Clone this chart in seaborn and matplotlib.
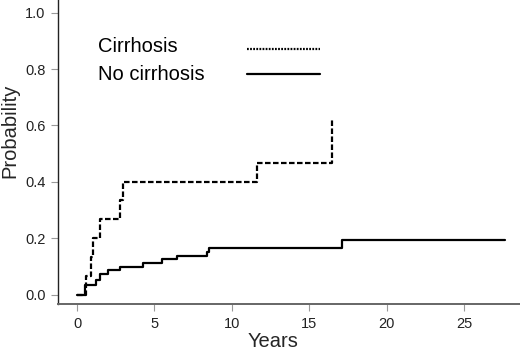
import numpy as np
import pandas as pd
import matplotlib
matplotlib.use("Agg")
import matplotlib.pyplot as plt
from matplotlib.lines import Line2D
import seaborn as sns

# step points (time in years, cumulative probability after the step)
cirr_years = [0, 0.6, 0.9, 1.0, 1.5, 2.77, 3.0, 11.63, 16.43]
cirr_prob = [0, 0.066, 0.135, 0.20, 0.268, 0.336, 0.40, 0.466, 0.626]

nocirr_years = [0, 0.52, 1.23, 1.48, 2.0, 2.77, 4.24, 5.5, 6.43, 8.37, 8.5, 17.1, 27.6]
nocirr_prob = [0, 0.035, 0.052, 0.073, 0.087, 0.10, 0.113, 0.127, 0.138, 0.152, 0.165, 0.194, 0.194]

labels = ["Cirrhosis", "No cirrhosis"]
xticks = [0, 5, 10, 15, 20, 25]
yticks = [0.0, 0.2, 0.4, 0.6, 0.8, 1.0]

sns.set_style("ticks")
plt.rcParams['font.family'] = ['Liberation Sans', 'DejaVu Sans']

fig = plt.figure(figsize=(5.2, 3.58), dpi=100)
ax = fig.add_axes([0.1115, 0.15, 0.8885, 0.85])

df_c = pd.DataFrame({"Years": cirr_years, "Probability": cirr_prob})
df_n = pd.DataFrame({"Years": nocirr_years, "Probability": nocirr_prob})

sns.lineplot(data=df_n, x="Years", y="Probability", ax=ax, color="black",
             linewidth=1.6, drawstyle="steps-post", estimator=None, sort=False)
sns.lineplot(data=df_c, x="Years", y="Probability", ax=ax, color="black",
             linewidth=1.6, drawstyle="steps-post", estimator=None, sort=False,
             dashes=False, linestyle=(0, (2.5, 1.1)))

ax.set_xlim(-1.23, 28.6)
ax.set_ylim(-0.034, 1.045)
ax.set_xticks(xticks)
ax.set_yticks(yticks)
ax.set_xticklabels([str(t) for t in xticks])
ax.set_yticklabels(["%.1f" % t for t in yticks])
ax.tick_params(labelsize=10.5, length=5, width=0.8, color="#999999",
               labelcolor="#222222", pad=4)

for s in ["top", "right"]:
    ax.spines[s].set_visible(False)
ax.spines["left"].set_color("#222222")
ax.spines["bottom"].set_color("#666666")
ax.spines["left"].set_linewidth(1.0)
ax.spines["bottom"].set_linewidth(1.4)

ax.set_xlabel("Years", fontsize=14.5)
ax.set_ylabel("Probability", fontsize=14.5)
ax.xaxis.set_label_coords(0.465, -0.09)
ax.yaxis.set_label_coords(-0.084, 0.57)

# legend: labels on the left, line samples on the right
legend_styles = [(0, (0.8, 0.6)), "-"]
text_y = [0.830, 0.737]
line_y = [0.839, 0.757]
for lab, ls, ty, ly in zip(labels, legend_styles, text_y, line_y):
    ax.text(0.087, ty, lab, transform=ax.transAxes, fontsize=14.5,
            ha="left", va="baseline", color="black")
    ax.add_line(Line2D([0.409, 0.567], [ly, ly], transform=ax.transAxes,
                       color="black", linewidth=1.6, linestyle=ls))

fig.savefig("out.png", dpi=100)
